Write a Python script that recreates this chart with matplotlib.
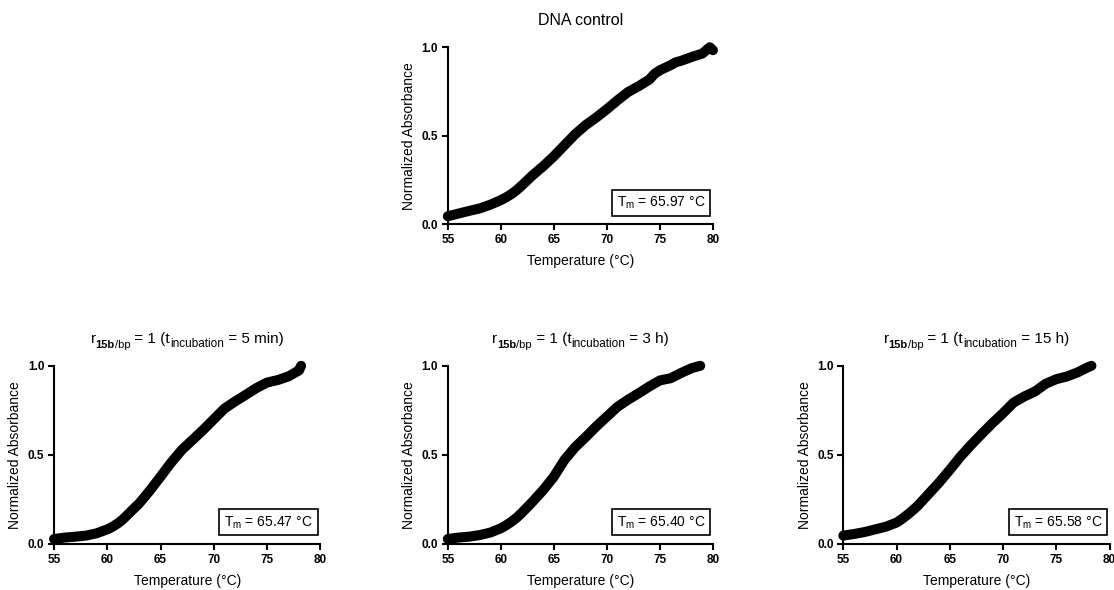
import numpy as np
import matplotlib
matplotlib.use("Agg")
import matplotlib.pyplot as plt

plt.rcParams['font.family'] = ['Liberation Sans', 'DejaVu Sans']
plt.rcParams['mathtext.fontset'] = 'custom'
plt.rcParams['mathtext.rm'] = 'Liberation Sans'
plt.rcParams['mathtext.it'] = 'Liberation Sans'
plt.rcParams['mathtext.bf'] = 'Liberation Sans:bold'

# melting curves (temperature in degC, normalized absorbance)
temp_ctrl = [55, 56, 57, 58, 59, 60, 60.5, 61, 61.5, 62, 63, 64, 65, 66, 67, 68,
             69, 70, 71, 72, 73, 74, 74.5, 75, 76, 76.5, 77, 78, 79, 79.7, 80]
abs_ctrl = [0.045, 0.06, 0.075, 0.089, 0.11, 0.136, 0.152, 0.17, 0.193, 0.22,
            0.277, 0.328, 0.384, 0.446, 0.508, 0.56, 0.603, 0.65, 0.70, 0.747,
            0.78, 0.817, 0.85, 0.87, 0.898, 0.915, 0.923, 0.945, 0.964, 1.0, 0.983]

temp_5min = [55, 56, 57, 58, 59, 60, 60.5, 61, 61.5, 62, 63, 64, 65, 66, 67, 68,
             69, 70, 71, 72, 73, 74, 75, 76, 77, 78, 78.2]
abs_5min = [0.028, 0.036, 0.041, 0.047, 0.06, 0.082, 0.097, 0.116, 0.14, 0.17,
            0.228, 0.30, 0.378, 0.457, 0.528, 0.584, 0.64, 0.70, 0.76, 0.80,
            0.837, 0.875, 0.906, 0.92, 0.94, 0.974, 1.0]

temp_3h = [55, 56, 57, 58, 59, 60, 60.5, 61, 61.5, 62, 63, 64, 65, 66, 67, 68,
           69, 70, 71, 72, 73, 74, 75, 76, 77, 78, 78.8]
abs_3h = [0.028, 0.036, 0.041, 0.05, 0.064, 0.088, 0.105, 0.125, 0.148, 0.176,
          0.238, 0.303, 0.378, 0.472, 0.543, 0.60, 0.66, 0.715, 0.77, 0.81,
          0.846, 0.884, 0.918, 0.93, 0.96, 0.987, 1.0]

temp_15h = [55, 56, 57, 58, 59, 60, 60.5, 61, 61.5, 62, 63, 64, 65, 66, 67, 68,
            69, 70, 71, 72, 73, 74, 75, 76, 77, 78, 78.3]
abs_15h = [0.047, 0.056, 0.067, 0.082, 0.097, 0.12, 0.14, 0.163, 0.188, 0.215,
           0.28, 0.345, 0.416, 0.49, 0.556, 0.618, 0.678, 0.734, 0.794, 0.828,
           0.856, 0.899, 0.925, 0.94, 0.963, 0.993, 1.0]

incubation = [None, "5 min", "3 h", "15 h"]
tm_values = [65.97, 65.47, 65.40, 65.58]
x_ticks = [55, 60, 65, 70, 75, 80]
y_ticks = [0.0, 0.5, 1.0]

series = [(temp_ctrl, abs_ctrl), (temp_5min, abs_5min),
          (temp_3h, abs_3h), (temp_15h, abs_15h)]

# axes rectangles in figure fraction
positions = [[0.402, 0.620, 0.238, 0.300],
             [0.0485, 0.078, 0.239, 0.302],
             [0.402, 0.078, 0.238, 0.302],
             [0.757, 0.078, 0.239, 0.302]]

fig = plt.figure(figsize=(11.14, 5.90), dpi=100)


def chained_title(ax, pieces, y=1.11):
    # pieces: (text, size, weight, baseline shift in points)
    texts = []
    first = ax.text(0.5, y, pieces[0][0], transform=ax.transAxes,
                    fontsize=pieces[0][1], fontweight=pieces[0][2],
                    ha='left', va='bottom')
    texts.append(first)
    prev, prev_shift = first, pieces[0][3]
    for s, size, weight, shift in pieces[1:]:
        t = ax.annotate(s, xy=(1, 0), xycoords=prev,
                        xytext=(0, shift - prev_shift), textcoords='offset points',
                        fontsize=size, fontweight=weight, ha='left', va='bottom')
        texts.append(t)
        prev, prev_shift = t, shift
    return texts


axes = []
titles = []
for i, ((t, a), pos, tm) in enumerate(zip(series, positions, tm_values)):
    ax = fig.add_axes(pos)
    axes.append(ax)
    ax.plot(t, a, '-', color='black', lw=7.2,
            solid_capstyle='round', solid_joinstyle='round', clip_on=False)
    ax.set_xlim(55, 80)
    ax.set_ylim(0, 1.0)
    ax.set_xticks(x_ticks)
    ax.set_yticks(y_ticks)
    ax.set_yticklabels(["%.1f" % v for v in y_ticks])
    for s in ['top', 'right']:
        ax.spines[s].set_visible(False)
    for s in ['left', 'bottom']:
        ax.spines[s].set_linewidth(1.5)
    ax.tick_params(direction='out', length=4, width=1.5, labelsize=8.5, pad=3)
    for lab in ax.get_xticklabels() + ax.get_yticklabels():
        lab.set_fontweight('bold')
    ax.set_xlabel("Temperature (°C)", fontsize=10, labelpad=6)
    ax.set_ylabel("Normalized Absorbance", fontsize=10, labelpad=4)
    if incubation[i] is None:
        ax.set_title("DNA control", fontsize=11.5, pad=16)
        titles.append(None)
    else:
        pieces = [("r", 11, 'normal', 0),
                  ("15b", 8, 'bold', -3),
                  ("/bp", 8, 'normal', -3),
                  (" = 1 (t", 11, 'normal', 0),
                  ("incubation", 8.5, 'normal', -3),
                  (" = %s)" % incubation[i], 11, 'normal', 0)]
        titles.append(chained_title(ax, pieces))
    ax.text(0.972, 0.075, r"T$_{\mathrm{m}}$ = %.2f °C" % tm,
            transform=ax.transAxes, ha='right', va='bottom', fontsize=10,
            bbox=dict(boxstyle='square,pad=0.35', fc='white', ec='black', lw=1.2))

# centre the composed titles over their axes
fig.canvas.draw()
renderer = fig.canvas.get_renderer()
for ax, texts in zip(axes, titles):
    if texts is None:
        continue
    x0 = min(t.get_window_extent(renderer).x0 for t in texts)
    x1 = max(t.get_window_extent(renderer).x1 for t in texts)
    bb = ax.get_window_extent(renderer)
    dx = (bb.x0 + bb.x1) / 2 - (x0 + x1) / 2
    fx, fy = texts[0].get_position()
    texts[0].set_position((fx + dx / bb.width, fy))

fig.savefig("out.png", dpi=100)
